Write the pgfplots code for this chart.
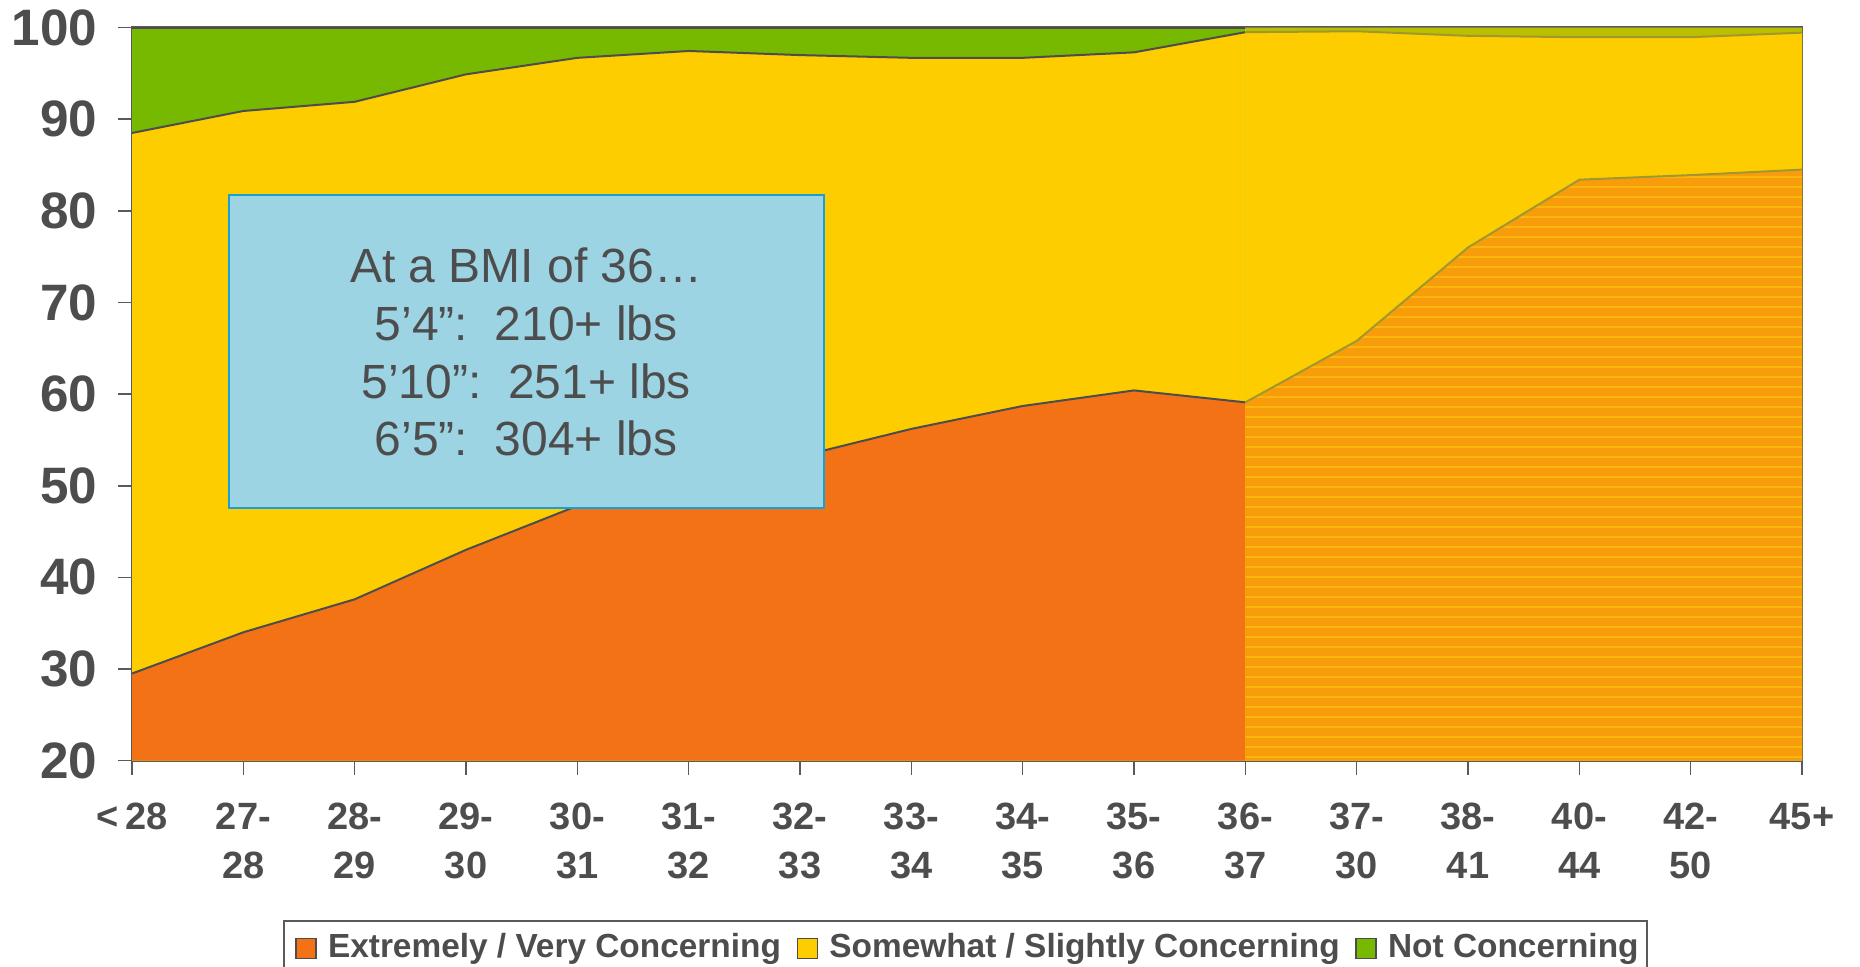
\documentclass[border=0pt]{standalone}
\usepackage{fontspec}
\setmainfont{Liberation Sans}
\usepackage{pgfplots}
\usepackage{pgfplotstable}
\pgfplotsset{compat=1.18}
\usetikzlibrary{patterns.meta}
\definecolor{cOr}{HTML}{F47216}
\definecolor{cOrB}{HTML}{F99C0C}
\definecolor{cStripe}{HTML}{FBB80C}
\definecolor{cYe}{HTML}{FDCD00}
\definecolor{cGr}{HTML}{77B800}
\definecolor{cGrB}{HTML}{BAC000}
\definecolor{cTx}{HTML}{4D4D4D}
\definecolor{cAx}{HTML}{5A5A5A}
\definecolor{cBoxF}{HTML}{9DD4E4}
\definecolor{cBoxD}{HTML}{1A9FD5}
\definecolor{cOl}{HTML}{A0982E}

% cumulative tops of the layers: o = orange, y = orange+yellow, g = total
\pgfplotstableread{
x o y g
0 29.5 88.5 100
1 34.0 90.9 100
2 37.6 91.9 100
3 43.0 94.9 100
4 47.8 96.7 100
5 50.5 97.45 100
6 53.2 97.0 100
7 56.2 96.7 100
8 58.7 96.7 100
9 60.4 97.3 100
10 59.1 99.5 100
}\dataA
\pgfplotstableread{
x o y g
10 59.1 99.5 100
11 65.8 99.6 100
12 76.0 99.1 100
13 83.4 98.95 100
14 83.9 98.95 100
15 84.5 99.45 100
}\dataB

\begin{document}
\begin{tikzpicture}
\begin{axis}[
  scale only axis, width=417.5pt, height=183.25pt,
  xmin=0, xmax=15, ymin=20, ymax=100,
  axis line style={cAx, line width=0.6pt},
  xtick={0,...,15},
  xticklabels={{<\,28},{27-\\28},{28-\\29},{29-\\30},{30-\\31},{31-\\32},{32-\\33},{33-\\34},{34-\\35},{35-\\36},{36-\\37},{37-\\30},{38-\\41},{40-\\44},{42-\\50},{45+}},
  ytick={20,30,...,100},
  tick align=outside, tick pos=left,
  major tick length=3.5pt,
  tick style={cAx, line width=0.4pt},
  yticklabel style={font=\fontsize{12.8}{14}\selectfont\bfseries, text=cTx, /pgf/number format/assume math mode=true, inner sep=0pt, anchor=east, xshift=-5pt},
  xticklabel style={font=\fontsize{9.5}{12.1}\selectfont\bfseries, text=cTx, align=center, inner sep=0pt, anchor=north, yshift=-7pt},
  legend image code/.code={\path (-2.8pt,0pt); \draw[#1] (0pt,-2.5pt) rectangle (5pt,2.5pt); \path (5.8pt,0pt);},
  legend columns=3,
  legend style={at={(axis description cs:0.499,0)}, yshift=-39.8pt, anchor=north,
    draw=cAx, line width=0.5pt, font=\fontsize{8.35}{10}\selectfont\bfseries, text=cTx,
    inner xsep=0pt, inner ysep=1.2pt,
    /tikz/every even column/.append style={column sep=-0.9pt}},
]
% green layer
\addplot[fill=cGr, draw=none, forget plot] table[x=x,y=g]{\dataA} \closedcycle;
\addplot[fill=cGrB, draw=none, forget plot] table[x=x,y=g]{\dataB} \closedcycle;
% yellow layer
\addplot[fill=cYe, draw=none, forget plot] table[x=x,y=y]{\dataA} \closedcycle;
\addplot[fill=cYe, draw=none, forget plot] table[x=x,y=y]{\dataB} \closedcycle;
% orange layer
\addplot[fill=cOr, draw=none, forget plot] table[x=x,y=o]{\dataA} \closedcycle;
\addplot[fill=cOrB, draw=none, forget plot] table[x=x,y=o]{\dataB} \closedcycle;
\addplot[pattern={Lines[angle=0,distance=2.5pt,line width=0.3pt]}, pattern color=cStripe, draw=none, forget plot] table[x=x,y=o]{\dataB} \closedcycle;
% boundary lines
\addplot[cTx, line width=0.5pt, forget plot] table[x=x,y=y]{\dataA};
\addplot[cOl, line width=0.5pt, forget plot] table[x=x,y=y]{\dataB};
\addplot[cTx, line width=0.5pt, forget plot] table[x=x,y=o]{\dataA};
\addplot[cOl, line width=0.5pt, forget plot] table[x=x,y=o]{\dataB};
\addplot[cTx, line width=0.5pt, forget plot] table[x=x,y=g]{\dataA};
% legend
\addlegendimage{fill=cOr, draw=cTx, line width=0.4pt}
\addlegendentry{Extremely / Very Concerning}
\addlegendimage{fill=cYe, draw=cTx, line width=0.4pt}
\addlegendentry{Somewhat / Slightly Concerning}
\addlegendimage{fill=cGr, draw=cTx, line width=0.4pt}
\addlegendentry{Not Concerning}
% annotation box
\draw[fill=cBoxF, draw=cBoxD, line width=0.6pt] (axis cs:0.871,47.58) rectangle (axis cs:6.216,81.74);
\node[anchor=base, font=\fontsize{12}{14}\selectfont, text=cTx] at (axis cs:3.54,72.2) {At a BMI of 36…};
\node[anchor=base, font=\fontsize{12}{14}\selectfont, text=cTx] at (axis cs:3.54,65.8) {5’4”:\ \ 210+ lbs};
\node[anchor=base, font=\fontsize{12}{14}\selectfont, text=cTx] at (axis cs:3.54,59.55) {5’10”:\ \ 251+ lbs};
\node[anchor=base, font=\fontsize{12}{14}\selectfont, text=cTx] at (axis cs:3.54,53.25) {6’5”:\ \ 304+ lbs};
\end{axis}
\pgfresetboundingbox
\path[use as bounding box] ([xshift=-33pt,yshift=-51.6pt]current axis.south west) rectangle ([xshift=14.5pt,yshift=6.9pt]current axis.north east);
\end{tikzpicture}
\end{document}
